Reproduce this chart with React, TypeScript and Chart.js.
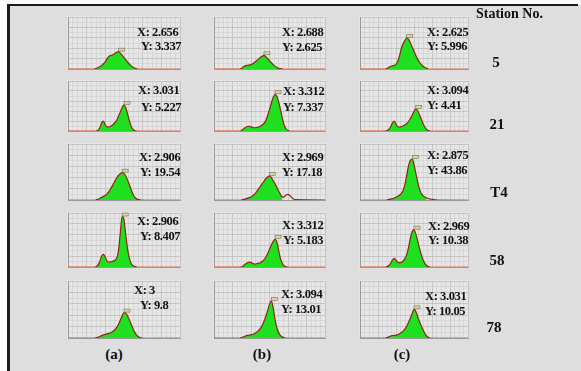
import React, { useEffect, useRef } from "react";
import { Chart, registerables } from "chart.js";
Chart.register(...registerables);

// shared x grid (particle size axis 0..6)
const X = [0, 1.2, 1.3, 1.4, 1.5, 1.6, 1.7, 1.8, 1.9, 2.0, 2.1, 2.2, 2.3, 2.4, 2.5, 2.6, 2.7, 2.8, 2.9, 3.0, 3.1, 3.2, 3.3, 3.4, 3.5, 3.6, 3.7, 3.8, 3.9, 4.0, 4.1, 4.2, 4.3, 4.4, 6];

// series: [0,1.2,1.3,1.4 | 1.5..2.4 | 2.5..3.4 | 3.5..4.4 | 6]
const S5a = [0, 0, 0, 0, 0.1, 0.25, 0.45, 0.7, 1.0, 1.4, 2.0, 2.45, 2.6, 2.75, 2.95, 3.2, 3.34, 3.05, 2.65, 2.2, 1.75, 1.3, 0.9, 0.55, 0.3, 0.12, 0.04, 0, 0, 0, 0, 0, 0, 0, 0];
const S5b = [0, 0, 0, 0, 0.15, 0.45, 0.65, 0.72, 0.75, 0.85, 1.05, 1.3, 1.6, 1.9, 2.2, 2.45, 2.63, 2.35, 2.0, 1.6, 1.2, 0.85, 0.55, 0.3, 0.15, 0.06, 0.02, 0, 0, 0, 0, 0, 0, 0, 0];
const S5c = [0, 0, 0, 0, 0.1, 0.3, 0.5, 0.6, 0.7, 0.9, 1.5, 2.6, 4.0, 4.9, 5.5, 6.0, 5.7, 5.0, 4.2, 3.4, 2.6, 1.9, 1.35, 0.9, 0.55, 0.3, 0.12, 0.04, 0, 0, 0, 0, 0, 0, 0];
const S21a = [0, 0, 0, 0, 0, 0.1, 0.6, 1.6, 2.0, 1.2, 0.8, 0.85, 1.0, 1.25, 1.6, 2.1, 2.9, 3.8, 4.7, 5.23, 4.6, 3.3, 1.9, 0.8, 0.25, 0.06, 0, 0, 0, 0, 0, 0, 0, 0, 0];
const S21b = [0, 0, 0, 0, 0.15, 0.4, 0.7, 0.9, 0.95, 0.85, 0.7, 0.65, 0.7, 0.8, 0.95, 1.2, 1.5, 2.1, 3.1, 4.3, 5.6, 6.7, 7.34, 6.9, 5.7, 4.2, 2.4, 1.1, 0.4, 0.1, 0, 0, 0, 0, 0];
const S21c = [0, 0, 0, 0, 0.1, 0.3, 0.8, 1.6, 2.0, 1.4, 0.85, 0.8, 0.9, 1.05, 1.25, 1.5, 1.9, 2.5, 3.2, 3.9, 4.41, 4.1, 3.3, 2.4, 1.5, 0.8, 0.3, 0.08, 0, 0, 0, 0, 0, 0, 0];
const ST4a = [0, 0, 0, 0, 0.1, 0.5, 1.2, 1.9, 2.6, 3.4, 4.6, 6.2, 8.3, 10.6, 13.2, 15.5, 17.5, 18.8, 19.54, 19.0, 17.0, 14.0, 10.5, 6.8, 3.6, 1.6, 0.6, 0.25, 0.1, 0.03, 0, 0, 0, 0, 0];
const ST4b = [0, 0, 0, 0, 0.15, 0.4, 0.8, 1.2, 1.7, 2.2, 3.0, 4.3, 5.9, 7.8, 9.6, 11.5, 13.4, 15.2, 16.5, 17.18, 16.0, 13.8, 11.5, 9.0, 6.3, 3.7, 2.0, 2.3, 3.6, 4.0, 3.2, 1.8, 0.7, 0.2, 0];
const ST4c = [0, 0, 0, 0, 0.2, 0.6, 1.0, 1.5, 2.2, 3.0, 4.0, 5.3, 7.2, 10.5, 17, 27, 37, 42.5, 43.86, 38, 29, 19.5, 12, 7.2, 4.6, 3.1, 2.2, 1.5, 1.0, 0.7, 0.4, 0.25, 0.1, 0.03, 0];
const S58a = [0, 0, 0, 0, 0.05, 0.3, 0.9, 1.8, 2.1, 1.6, 1.0, 0.8, 0.85, 0.95, 1.1, 1.4, 2.6, 5.6, 8.41, 7.8, 5.2, 2.8, 1.3, 0.5, 0.2, 0.06, 0, 0, 0, 0, 0, 0, 0, 0, 0];
const S58b = [0, 0, 0, 0, 0.05, 0.25, 0.55, 0.8, 0.9, 0.85, 0.65, 0.55, 0.6, 0.7, 0.8, 1.0, 1.3, 1.8, 2.5, 3.3, 4.1, 4.7, 5.18, 4.6, 3.0, 1.5, 0.6, 0.2, 0.05, 0, 0, 0, 0, 0, 0];
const S58c = [0, 0, 0, 0, 0.1, 0.4, 1.0, 1.9, 2.4, 1.9, 1.3, 1.15, 1.3, 1.7, 2.4, 3.5, 5.5, 8.0, 9.8, 10.38, 9.2, 7.3, 5.3, 3.5, 2.0, 1.0, 0.4, 0.1, 0, 0, 0, 0, 0, 0, 0];
const S78a = [0, 0, 0, 0, 0.1, 0.3, 0.6, 0.9, 1.2, 1.4, 1.6, 1.8, 2.1, 2.5, 3.1, 4.0, 5.2, 6.8, 8.5, 9.8, 9.6, 8.4, 6.8, 5.0, 3.3, 1.9, 0.9, 0.35, 0.1, 0, 0, 0, 0, 0, 0];
const S78b = [0, 0, 0, 0, 0.15, 0.4, 0.7, 0.9, 1.0, 1.1, 1.3, 1.6, 2.0, 2.6, 3.3, 4.3, 5.8, 7.6, 9.6, 11.8, 13.01, 10.5, 6.5, 3.5, 1.8, 0.8, 0.3, 0.1, 0, 0, 0, 0, 0, 0, 0];
const S78c = [0, 0, 0, 0, 0.15, 0.4, 0.7, 0.85, 0.9, 1.0, 1.2, 1.5, 1.9, 2.5, 3.2, 4.2, 5.5, 7.0, 8.6, 10.05, 9.4, 7.6, 5.8, 4.3, 2.9, 1.6, 0.7, 0.2, 0.05, 0, 0, 0, 0, 0, 0];

const SERIES = [S5a, S5b, S5c, S21a, S21b, S21c, ST4a, ST4b, ST4c, S58a, S58b, S58c, S78a, S78b, S78c];
const Y_MAX = [10, 10, 10, 10, 10, 10, 40, 40, 60, 9, 10, 15, 22, 20, 20];
const FILL_TO = [6, 6, 6, 6, 6, 6, 3.7, 3.7, 3.7, 6, 6, 6, 6, 6, 6];
const PEAK_X = ["2.656", "2.688", "2.625", "3.031", "3.312", "3.094", "2.906", "2.969", "2.875", "2.906", "3.312", "2.969", "3", "3.094", "3.031"];
const PEAK_Y = ["3.337", "2.625", "5.996", "5.227", "7.337", "4.41", "19.54", "17.18", "43.86", "8.407", "5.183", "10.38", "9.8", "13.01", "10.05"];
const STATIONS = ["5", "21", "T4", "58", "78"];
const COLUMNS = ["(a)", "(b)", "(c)"];

// layout
const COL_L = [67, 213, 359];
const COL_R = [181, 326, 469];
const ROW_T = [16, 80, 143, 212, 280];
const ROW_B = [70, 132, 201, 268, 339];
const TXT = [
  [137, 32, 141, 46], [282, 32, 282, 47], [427, 32, 427, 46],
  [138, 90, 141, 107], [283, 91, 283, 107], [427, 90, 427, 105],
  [139, 157, 140, 172], [282, 157, 282, 172], [427, 155, 427, 170],
  [137, 221, 140, 236], [282, 225, 283, 240], [428, 226, 428, 240],
  [134, 290, 140, 305], [281, 294, 281, 309], [425, 296, 425, 311],
];
const STATION_POS = [[496, 62], [497, 124], [499, 192], [497, 260], [494, 327]];
const COL_LABEL_X = [114, 262, 402];

const GREEN = "#1ee01e";
const LINE_DARK = "#8e2414";
const LINE_BASE = "#dc6a45";
const FONT = "'Liberation Serif', 'Times New Roman', serif";

const peakMarker = {
  id: "peakMarker",
  afterDatasetsDraw(chart: any) {
    const meta = chart.getDatasetMeta(0);
    const data = chart.data.datasets[0].data as any[];
    let bi = 0;
    data.forEach((p, i) => { if (p.y > data[bi].y) bi = i; });
    const el = meta.data[bi];
    if (!el) return;
    const ctx = chart.ctx;
    ctx.save();
    ctx.fillStyle = "#d8d2a4";
    ctx.strokeStyle = "#6b5c3a";
    ctx.lineWidth = 0.5;
    ctx.fillRect(el.x, el.y - 3.5, 6, 3);
    ctx.strokeRect(el.x, el.y - 3.5, 6, 3);
    ctx.restore();
  },
};

function Panel({ idx }: { idx: number }) {
  const ref = useRef<HTMLCanvasElement>(null);
  const r = Math.floor(idx / 3), c = idx % 3;
  const w = COL_R[c] - COL_L[c];
  const h = ROW_B[r] - ROW_T[r];
  useEffect(() => {
    const s = SERIES[idx];
    const pts = X.map((x, i) => ({ x, y: s[i] }));
    const ymax = Y_MAX[idx];
    const thr = ymax * 0.004;
    const chart = new Chart(ref.current!, {
      type: "line",
      data: {
        datasets: [
          {
            data: pts, fill: false, borderColor: LINE_DARK, borderWidth: 1.2, pointRadius: 0, cubicInterpolationMode: "monotone",
            segment: { borderColor: (ctx: any) => (ctx.p0.parsed.y > thr || ctx.p1.parsed.y > thr ? LINE_DARK : LINE_BASE) },
          } as any,
          { data: pts.filter((p) => p.x <= FILL_TO[idx]), fill: "origin", backgroundColor: GREEN, borderWidth: 0, pointRadius: 0, cubicInterpolationMode: "monotone" } as any,
        ],
      },
      options: {
        animation: false,
        responsive: false,
        maintainAspectRatio: false,
        events: [],
        layout: { padding: 1 },
        plugins: { legend: { display: false }, tooltip: { enabled: false } },
        scales: {
          x: {
            type: "linear", min: 0, max: 6,
            ticks: { display: false, stepSize: 0.25 },
            grid: { drawTicks: false, color: (ctx: any) => (Math.abs(ctx.tick.value % 1) < 1e-6 ? "#bcbcbc" : "#d3d3d3"), lineWidth: 0.8 },
            border: { color: "#9a9a9a", width: 1 },
          },
          y: {
            min: 0, max: ymax,
            ticks: { display: false, stepSize: ymax / 10 },
            grid: { drawTicks: false, color: (ctx: any) => (ctx.index % 2 === 0 ? "#bcbcbc" : "#d3d3d3"), lineWidth: 0.8 },
            border: { color: "#9a9a9a", width: 1 },
          },
        },
      } as any,
      plugins: [peakMarker],
    });
    return () => chart.destroy();
  }, [idx]);
  return (
    <canvas
      ref={ref}
      width={w}
      height={h}
      style={{ position: "absolute", left: COL_L[c], top: ROW_T[r], width: w, height: h, background: "#e6e6e6" }}
    />
  );
}

const txt = (x: number, y: number, s: string, size: number, key: string, center = false, ls = 0) => (
  <div
    key={key}
    style={{
      position: "absolute", left: x, top: y, transform: center ? "translate(-50%, -50%)" : "translateY(-50%)",
      fontFamily: FONT, fontWeight: "bold", fontSize: size, lineHeight: 1, whiteSpace: "nowrap", color: "#111",
      letterSpacing: ls,
    }}
  >
    {s}
  </div>
);

export default function App() {
  return (
    <div style={{ position: "fixed", left: 0, top: 0, width: 581, height: 371, background: "#fafafa", overflow: "hidden" }}>
      <div style={{ position: "absolute", left: 8, top: 5, width: 573, height: 366, background: "#dedede" }} />
      <div style={{ position: "absolute", left: 7, top: 4, width: 571, height: 2, background: "#1a1a1a" }} />
      <div style={{ position: "absolute", left: 7, top: 4, width: 3, height: 367, background: "#1a1a1a" }} />
      {SERIES.map((_, i) => <Panel key={i} idx={i} />)}
      {TXT.map((t, i) => [
        txt(t[0], t[1], "X: " + PEAK_X[i], 12.5, "x" + i, false, -0.4),
        txt(t[2], t[3], "Y: " + PEAK_Y[i], 12.5, "y" + i, false, -0.4),
      ])}
      {txt(476, 14, "Station No.", 14, "st")}
      {STATIONS.map((s, i) => txt(STATION_POS[i][0], STATION_POS[i][1], s, 15, "s" + i, true))}
      {COLUMNS.map((s, i) => txt(COL_LABEL_X[i], 354, s, 15, "c" + i, true))}
    </div>
  );
}
